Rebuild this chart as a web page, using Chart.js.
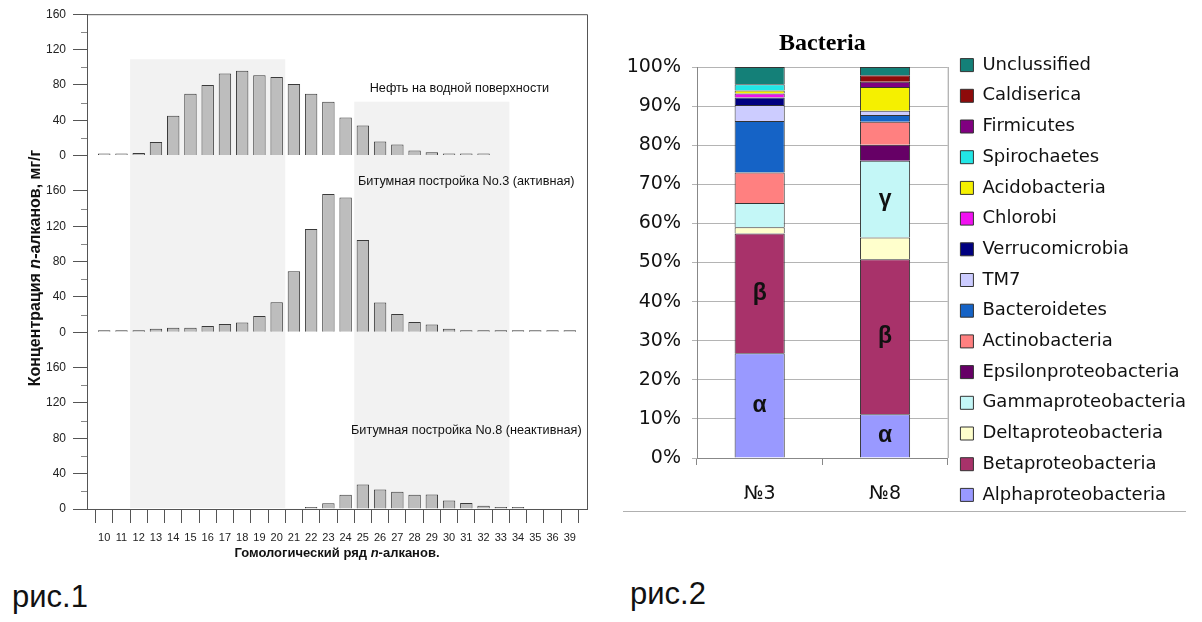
<!DOCTYPE html>
<html><head><meta charset="utf-8">
<script src="https://cdn.jsdelivr.net/npm/chart.js@4.4.1/dist/chart.umd.min.js"></script>
<style>
html,body{margin:0;padding:0;background:#fff;width:1202px;height:622px;overflow:hidden;}
canvas{position:absolute;}
#c1{left:0;top:0;}
#c2{left:612px;top:0;}
.fig{position:absolute;font-family:'Liberation Sans',Arial,sans-serif;font-size:31px;line-height:1;color:#111;}
#line2{position:absolute;left:623px;top:511px;width:563px;height:1px;background:#b0b0b0;}
</style></head><body>
<canvas id="c1" width="600" height="570"></canvas>
<canvas id="c2" width="590" height="550"></canvas>
<div id="line2"></div>
<div class="fig" style="left:12px;top:581px">рис.1</div>
<div class="fig" style="left:630px;top:578px">рис.2</div>
<script>
// ---------- Figure 1 data ----------
const alkaneLabels = ['10','11','12','13','14','15','16','17','18','19','20','21','22','23','24','25','26','27','28','29','30','31','32','33','34','35','36','39'];
const oilSurface = [0,1,3,15.5,45,70,80,93,96,91,89,81,70,61,43,34,16,12.5,5.7,3.8,2.3,1,1,null,null,null,null,null];
const moundActive3 = [0,0,0,4,5,5,7,9.4,11,18.5,34,69,117,156.6,152.5,104.5,33.6,20.8,11.7,8.7,4,1.5,1.2,0,0,0,0,0];
const moundInactive8 = [null,null,null,null,null,null,null,null,null,null,null,null,1.9,6.4,16,27.7,22,19.4,16,16.4,9.7,6.7,3.7,2.2,1,null,null,null];
const panelNotes = ['Нефть на водной поверхности','Битумная постройка No.3 (активная)','Битумная постройка No.8 (неактивная)'];
const fig1YTitle = [['Концентрация ','bold'],['n','italic bold'],['-алканов, мг/г','bold']];
const fig1XTitle = [['Гомологический ряд ','bold'],['n','italic bold'],['-алканов.','bold']];

// ---------- Figure 2 data ----------
const samples = ['№3','№8'];
const taxa = ['Alphaproteobacteria','Betaproteobacteria','Deltaproteobacteria','Gammaproteobacteria','Epsilonproteobacteria','Actinobacteria','Bacteroidetes','TM7','Verrucomicrobia','Chlorobi','Acidobacteria','Spirochaetes','Firmicutes','Caldiserica','Unclussified'];
const alpha = [26.8, 11.2];
const beta = [30.6, 39.6];
const delta = [1.6, 5.6];
const gamma = [6.2, 19.6];
const epsilon = [0, 4.1];
const actino = [7.8, 5.9];
const bacteroidetes = [13.2, 1.7];
const tm7 = [4.1, 1.1];
const verruco = [1.9, 0];
const chlorobi = [1.0, 0];
const acido = [0.8, 6.1];
const spiro = [1.6, 0];
const firmicutes = [0, 1.3];
const caldiserica = [0, 1.7];
const unclassified = [4.4, 2.1];
const taxaValues = [alpha,beta,delta,gamma,epsilon,actino,bacteroidetes,tm7,verruco,chlorobi,acido,spiro,firmicutes,caldiserica,unclassified];
const taxaColors = ['#9999ff','#a8326a','#ffffcc','#c4f7f7','#660066','#ff8080','#1563c6','#ccccff','#000080','#f011f0','#f5f000','#22e6e6','#800080','#8e0a0a','#148078'];
const greekMarks = {0:['α','α'], 1:['β','β'], 3:[null,'γ']};

// ---------- Figure 1 ----------
const FONT = "'Liberation Sans', Arial, sans-serif";
const toPts = arr => arr.map((v,i)=>({x:i, y:v}));

function drawMixed(ctx, parts, size, x, y, rot){
  ctx.save();
  ctx.translate(x,y); ctx.rotate(rot);
  let total = 0;
  parts.forEach(p=>{ctx.font = p[1]+' '+size+'px '+FONT; total += ctx.measureText(p[0]).width;});
  let cx = -total/2;
  ctx.textBaseline='middle'; ctx.textAlign='left'; ctx.fillStyle='#111';
  parts.forEach(p=>{ctx.font = p[1]+' '+size+'px '+FONT; ctx.fillText(p[0],cx,0); cx += ctx.measureText(p[0]).width;});
  ctx.restore();
}

const fig1Deco = {
  id:'fig1Deco',
  beforeDatasetsDraw(chart){
    const {ctx, chartArea:a, scales} = chart;
    const x = scales.x, yTop = scales.yOil;
    ctx.save(); ctx.fillStyle='#f2f2f2';
    [[1.5,10.5,109],[14.5,23.5,61]].forEach(b=>{
      const x0 = x.getPixelForValue(b[0]), x1 = x.getPixelForValue(b[1]);
      const y0 = yTop.getPixelForValue(b[2]);
      ctx.fillRect(x0, y0, x1-x0, a.bottom-1-y0);
    });
    ctx.restore();
  },
  afterDraw(chart){
    const {ctx, chartArea:a, scales} = chart;
    ctx.save();
    ctx.strokeStyle='#555'; ctx.lineWidth=1;
    ctx.beginPath();
    ctx.moveTo(a.left, a.top+0.5); ctx.lineTo(a.right+0.5, a.top+0.5);
    ctx.lineTo(a.right+0.5, a.bottom);
    ctx.stroke();
    // minor ticks
    ctx.strokeStyle='#888';
    ['yOil','yAct','yInact'].forEach(id=>{
      const s = scales[id];
      s.ticks.forEach(t=>{
        if (t.value % 40 !== 0) {
          const py = Math.round(s.getPixelForValue(t.value))+0.5;
          ctx.beginPath(); ctx.moveTo(a.left-6, py); ctx.lineTo(a.left, py); ctx.stroke();
        }
      });
    });
    // panel notes
    ctx.fillStyle='#111'; ctx.font='12.7px '+FONT; ctx.textAlign='center'; ctx.textBaseline='middle';
    const pos = [['yOil',20.6,76],['yAct',21.0,170.6],['yInact',21.0,89]];
    panelNotes.forEach((txt,i)=>{
      ctx.fillText(txt, scales.x.getPixelForValue(pos[i][1]), scales[pos[i][0]].getPixelForValue(pos[i][2]));
    });
    ctx.restore();
    drawMixed(ctx, fig1YTitle, 16, 36, 268, -Math.PI/2);
    drawMixed(ctx, fig1XTitle, 13, (a.left+a.right)/2, 553, 0);
  }
};

const yCommon = (max, weight) => ({
  type:'linear', position:'left', stack:'panels', stackWeight:weight, min:0, max:max, offset:false,
  afterBuildTicks: s => { s.ticks = s.ticks.filter(t => t.value <= 160); },
  afterFit: s => { s.width = 87; },
  ticks:{stepSize:20, autoSkip:false, padding:7, color:'#222', font:{family:FONT, size:12},
         callback: v => (v % 40 === 0 ? String(v) : '')},
  grid:{drawOnChartArea:false, tickLength:14, tickColor: c => (c.tick && c.tick.value % 40 === 0 ? '#555' : 'rgba(0,0,0,0)')},
  border:{color:'#555', width:1}
});

const barStyle = {backgroundColor:'#bdbdbd', borderColor:'#3a3a3a', borderWidth:1, minBarLength:2};
new Chart(document.getElementById('c1'), {
  type:'bar',
  data:{datasets:[
    Object.assign({label:panelNotes[0], data:toPts(oilSurface), yAxisID:'yOil'}, barStyle),
    Object.assign({label:panelNotes[1], data:toPts(moundActive3), yAxisID:'yAct'}, barStyle),
    Object.assign({label:panelNotes[2], data:toPts(moundInactive8), yAxisID:'yInact'}, barStyle)
  ]},
  options:{
    responsive:false, animation:false,
    layout:{padding:{left:0, right:13, top:13, bottom:9.8}},
    datasets:{bar:{grouped:false, barPercentage:0.72, categoryPercentage:1}},
    plugins:{legend:{display:false}, tooltip:{enabled:false}},
    scales:{
      x:{type:'linear', min:-1, max:28, offset:false,
         afterBuildTicks: s => { s.ticks = s.ticks.filter(t => t.value >= 0 && t.value <= 27); },
         afterFit: s => { s.height = 51.2; },
         ticks:{stepSize:1, autoSkip:false, maxRotation:0, padding:8, color:'#222', font:{family:FONT, size:11},
                callback: v => alkaneLabels[v]},
         grid:{drawOnChartArea:false, tickLength:14, tickColor:'#555'},
         border:{color:'#555'}},
      yInact: yCommon(200,200),
      yAct: yCommon(200,200),
      yOil: yCommon(160,160)
    }
  },
  plugins:[fig1Deco]
});

// ---------- Figure 2 ----------
const fig2Deco = {
  id:'fig2Deco',
  afterDatasetsDraw(chart){
    const {ctx, chartArea:a} = chart;
    ctx.save();
    ctx.strokeStyle='#999'; ctx.lineWidth=1;
    ctx.beginPath(); ctx.moveTo(a.right+0.5, a.top); ctx.lineTo(a.right+0.5, a.bottom); ctx.stroke();
    ctx.fillStyle='#111'; ctx.font="bold 23px "+FONT; ctx.textAlign='center'; ctx.textBaseline='middle';
    Object.keys(greekMarks).forEach(k=>{
      const meta = chart.getDatasetMeta(+k);
      greekMarks[k].forEach((g,i)=>{
        if (!g) return;
        const el = meta.data[i];
        ctx.fillText(g, el.x, (el.y + el.base)/2);
      });
    });
    ctx.restore();
  }
};

new Chart(document.getElementById('c2'), {
  type:'bar',
  data:{labels:samples, datasets: taxa.map((name,k)=>({label:name, data:taxaValues[k], backgroundColor:taxaColors[k], borderColor:'#333', borderWidth:1}))},
  options:{
    responsive:false, animation:false,
    layout:{padding:{left:0, right:6, top:20, bottom:10}},
    datasets:{bar:{barPercentage:0.4, categoryPercentage:1}},
    plugins:{
      title:{display:true, text:'Bacteria', fullSize:false, color:'#000',
             font:{family:"'Liberation Serif', 'Times New Roman', serif", weight:'bold', size:24}, padding:{top:9.6, bottom:8.6}},
      legend:{position:'right', reverse:true, maxWidth:260,
              labels:{boxWidth:13, boxHeight:13, padding:12.7, color:'#111', font:{family:"'DejaVu Sans', sans-serif", size:18}}},
      tooltip:{enabled:false}
    },
    scales:{
      x:{stacked:true, afterFit: s => { s.height = 82; },
         grid:{drawOnChartArea:false, tickLength:7, tickColor:'#888', offset:true},
         border:{color:'#888'},
         ticks:{color:'#111', padding:18, font:{family:"'DejaVu Sans', sans-serif", size:19}}},
      y:{stacked:true, min:0, max:100, afterFit: s => { s.width = 85; },
         ticks:{stepSize:10, padding:11, color:'#111', callback: v => v + '%', font:{family:"'DejaVu Sans', sans-serif", size:19}},
         grid:{color:'#b4b4b4', tickLength:5},
         border:{color:'#888'}}
    }
  },
  plugins:[fig2Deco]
});
</script>
</body></html>
